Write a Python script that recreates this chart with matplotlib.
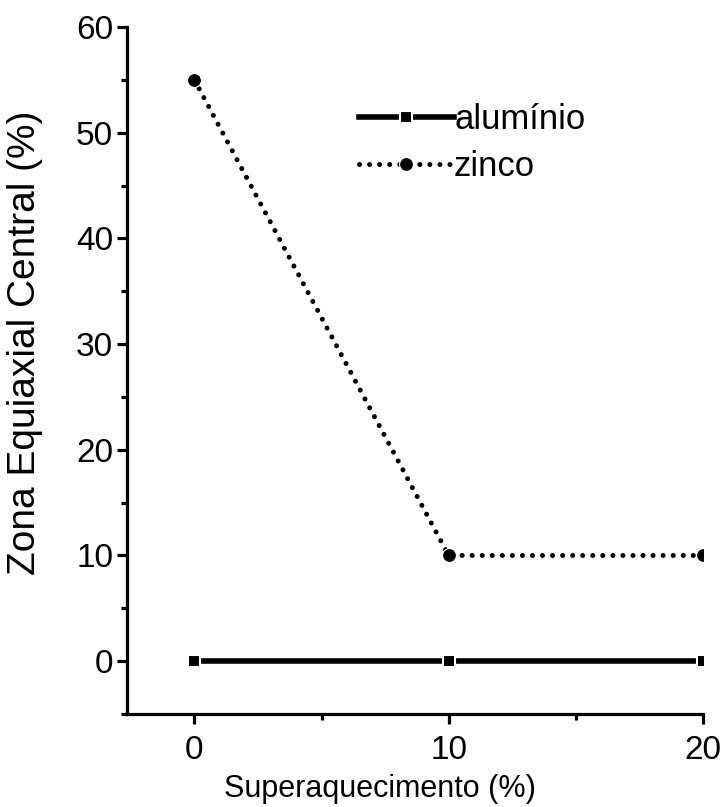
import matplotlib.pyplot as plt
from matplotlib.ticker import MultipleLocator

plt.rcParams['font.family'] = ['Liberation Sans', 'DejaVu Sans']

# superaquecimento (%) vs zona equiaxial central (%)
superheat = [0, 10, 20]
aluminio = [0, 0, 0]
zinco = [55, 10, 10]

fig = plt.figure(figsize=(7.24, 8.07), dpi=100)
ax = fig.add_axes([0.1754, 0.1152, 0.7956, 0.8513])

ax.plot(superheat, aluminio, '-', color='black', lw=4.0, marker='s', ms=8,
        mec='white', mew=1.5, label='alumínio')
ax.plot(superheat, zinco, color='black', lw=3.6, ls=(0, (0.01, 2.0)),
        dash_capstyle='round', marker='o', ms=10, mec='white', mew=0.8, label='zinco')

ax.set_xlim(-2.65, 20)
ax.set_ylim(-5, 60)
ax.xaxis.set_major_locator(MultipleLocator(10))
ax.xaxis.set_minor_locator(MultipleLocator(5))
ax.yaxis.set_major_locator(MultipleLocator(10))
ax.yaxis.set_minor_locator(MultipleLocator(5))

for s in ['top', 'right']:
    ax.spines[s].set_visible(False)
for s in ['left', 'bottom']:
    ax.spines[s].set_linewidth(2.3)
ax.spines['bottom'].set_bounds(-2.65, 20)

ax.tick_params(which='major', direction='out', length=7, width=2.3, labelsize=24)
ax.tick_params(axis='y', which='major', pad=3)
ax.tick_params(axis='x', which='major', pad=8)
ax.tick_params(which='minor', direction='out', length=4, width=2.3)

ax.set_xlabel('Superaquecimento (%)', fontsize=22)
ax.set_ylabel('Zona Equiaxial Central (%)', fontsize=28)
ax.xaxis.set_label_coords(0.44, -0.087)
ax.yaxis.set_label_coords(-0.146, 0.54)

ax.legend(loc='center left', bbox_to_anchor=(0.402, 0.831), frameon=False,
          fontsize=25, handlelength=2.75, handletextpad=0.0, labelspacing=0.4,
          borderaxespad=0, borderpad=0)

fig.savefig('out.png', dpi=100)
